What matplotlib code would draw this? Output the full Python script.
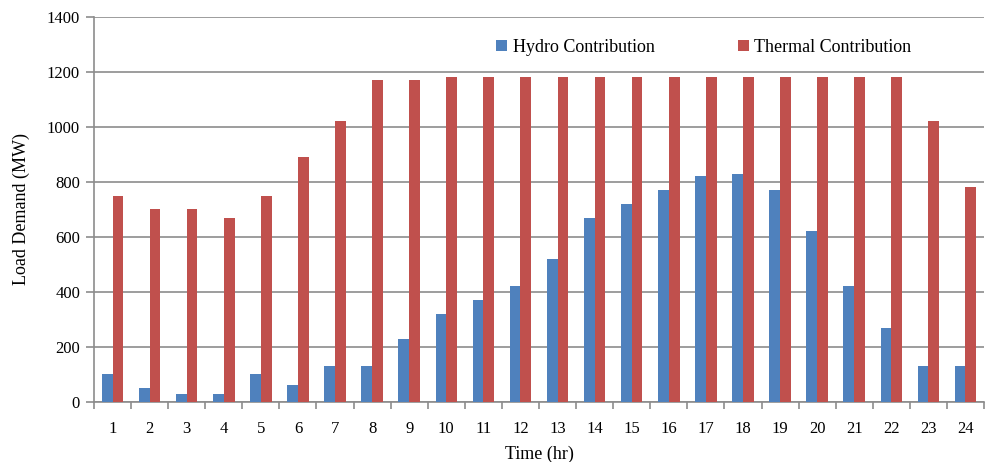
import matplotlib.pyplot as plt
import numpy as np

hours = list(range(1, 25))
hydro = [100, 50, 30, 30, 100, 60, 130, 130, 230, 320, 370, 420,
         520, 670, 720, 770, 820, 830, 770, 620, 420, 270, 130, 130]
thermal = [750, 700, 700, 670, 750, 890, 1020, 1170, 1170, 1180, 1180, 1180,
           1180, 1180, 1180, 1180, 1180, 1180, 1180, 1180, 1180, 1180, 1020, 780]

plt.rcParams['font.family'] = ['Liberation Serif', 'DejaVu Serif']

fig = plt.figure(figsize=(9.85, 4.62), dpi=100)
ax = fig.add_axes([0.0954, 0.13, 0.9036, 0.8332])

x = np.arange(len(hours))
w = 0.29
ax.bar(x - w / 2, hydro, w, color='#4F81BD', label='Hydro Contribution', zorder=3)
ax.bar(x + w / 2, thermal, w, color='#C0504D', label='Thermal Contribution', zorder=3)

ax.set_xlim(-0.5, len(hours) - 0.5)
ax.set_ylim(0, 1400)
ax.set_yticks(range(0, 1401, 200))
ax.yaxis.grid(True, color='#8c8c8c', linewidth=1.2, zorder=0)

ax.set_xticks(x)
ax.set_xticklabels([str(h) for h in hours], fontsize=12)
ax.set_xticks(np.arange(-0.5, len(hours), 1), minor=True)
ax.tick_params(axis='x', which='major', length=0, pad=14)
ax.tick_params(axis='x', which='minor', length=5, color='#8c8c8c', width=1.2)
ax.tick_params(axis='y', length=6, color='#8c8c8c', width=1.2, labelsize=12, pad=4)

for s in ['top', 'right']:
    ax.spines[s].set_visible(False)
for s in ['left', 'bottom']:
    ax.spines[s].set_color('#8c8c8c')
    ax.spines[s].set_linewidth(1.2)

ax.set_xlabel('Time (hr)', fontsize=13, labelpad=6)
ax.set_ylabel('Load Demand (MW)', fontsize=13, labelpad=12)

leg = ax.legend(loc='upper left', bbox_to_anchor=(0.434, 0.985), ncol=2, frameon=False,
                fontsize=13, handlelength=0.6, handleheight=0.6, handletextpad=0.3,
                columnspacing=4.6)

fig.savefig('out.png', dpi=100)
